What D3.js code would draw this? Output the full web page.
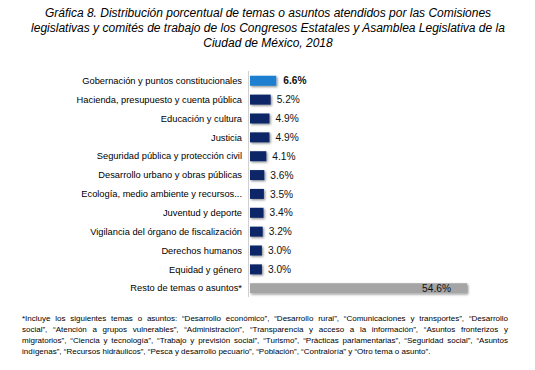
<!DOCTYPE html>
<html>
<head>
<meta charset="utf-8">
<script src="https://cdn.jsdelivr.net/npm/d3@7"></script>
<style>
  html, body { margin: 0; padding: 0; background: #fff; }
  svg { display: block; font-family: "Liberation Sans", Arial, sans-serif; }
</style>
</head>
<body>
<main></main>
<script>
var temas = [
    "Gobernación y puntos constitucionales",
    "Hacienda, presupuesto y cuenta pública",
    "Educación y cultura",
    "Justicia",
    "Seguridad pública y protección civil",
    "Desarrollo urbano y obras públicas",
    "Ecología, medio ambiente y recursos...",
    "Juventud y deporte",
    "Vigilancia del órgano de fiscalización",
    "Derechos humanos",
    "Equidad y género",
    "Resto de temas o asuntos*"
];
var porcentajes = [6.6, 5.2, 4.9, 4.9, 4.1, 3.6, 3.5, 3.4, 3.2, 3.0, 3.0, 54.6];

var titulo = [
    "Gráfica 8. Distribución porcentual de temas o asuntos atendidos por las Comisiones",
    "legislativas y comités de trabajo de los Congresos Estatales y Asamblea Legislativa de la",
    "Ciudad de México, 2018"
];

var nota = [
    "*Incluye los siguientes temas o asuntos: “Desarrollo económico”, “Desarrollo rural”, “Comunicaciones y transportes”, “Desarrollo",
    "social”, “Atención a grupos vulnerables”, “Administración”, “Transparencia y acceso a la información”, “Asuntos fronterizos y",
    "migratorios”, “Ciencia y tecnología”, “Trabajo y previsión social”, “Turismo”, “Prácticas parlamentarias”, “Seguridad social”, “Asuntos",
    "indígenas”, “Recursos hidráulicos”, “Pesca y desarrollo pecuario”, “Población”, “Contraloría” y “Otro tema o asunto”."
];

var data = temas.map(function (t, i) { return {tema: t, valor: porcentajes[i], i: i}; });

var svg = d3.select("main")
    .append("svg")
    .attr("width", 535)
    .attr("height", 370);

// titulo
svg.append("g")
    .selectAll("text")
    .data(titulo)
    .enter()
    .append("text")
    .attr("x", 268)
    .attr("y", function (d, i) { return 17 + i * 15; })
    .attr("text-anchor", "middle")
    .attr("font-size", 12)
    .attr("font-style", "italic")
    .attr("fill", "#000")
    .text(function (d) { return d; });

var x = d3.scaleLinear().domain([0, 54.6]).range([0, 217]);
var y = d3.scaleBand().domain(d3.range(temas.length)).range([72, 297]).paddingInner(0.47).paddingOuter(0.2);

var plot = svg.append("g")
    .attr("id", "plot-area")
    .attr("transform", "translate(250, 0)");

var defs = svg.append("defs");
defs.append("filter")
    .attr("id", "sombra")
    .attr("x", "-10%").attr("y", "-30%").attr("width", "130%").attr("height", "180%")
    .append("feDropShadow")
    .attr("dx", 1.2).attr("dy", 1.2).attr("stdDeviation", 0.8)
    .attr("flood-color", "#000").attr("flood-opacity", 0.45);

function color(d) {
    if (d.i === 0) return "#1a7fcf";
    if (d.i === temas.length - 1) return "#a5a5a5";
    return "#0d2868";
}

plot.selectAll("rect")
    .data(data)
    .enter()
    .append("rect")
    .attr("x", 0)
    .attr("y", function (d) { return y(d.i); })
    .attr("width", function (d) { return x(d.valor); })
    .attr("height", y.bandwidth())
    .attr("fill", color)
    .attr("filter", "url(#sombra)");

// eje vertical
plot.append("line")
    .attr("x1", -1.5).attr("x2", -1.5)
    .attr("y1", 71).attr("y2", 297)
    .attr("stroke", "#d0d0d0")
    .attr("stroke-width", 1);

// etiquetas de categoria
plot.selectAll("text.tema")
    .data(data)
    .enter()
    .append("text")
    .attr("class", "tema")
    .attr("x", -8)
    .attr("y", function (d) { return y(d.i) + y.bandwidth() / 2; })
    .attr("dy", "0.35em")
    .attr("text-anchor", "end")
    .attr("font-size", 9.3)
    .attr("fill", "#000")
    .text(function (d) { return d.tema; });

// valores
plot.selectAll("text.valor")
    .data(data)
    .enter()
    .append("text")
    .attr("class", "valor")
    .attr("x", function (d) {
        if (d.i === temas.length - 1) return x(d.valor) - 16;
        return x(d.valor) + (d.i === 0 ? 7 : 6);
    })
    .attr("y", function (d) { return y(d.i) + y.bandwidth() / 2; })
    .attr("dy", "0.36em")
    .attr("text-anchor", function (d) { return d.i === temas.length - 1 ? "end" : "start"; })
    .attr("font-size", 10.2)
    .attr("font-weight", function (d) { return d.i === 0 ? "bold" : "normal"; })
    .attr("fill", "#111")
    .text(function (d) { return d3.format(".1f")(d.valor) + "%"; });

// nota al pie, justificada
var notaG = svg.append("g");
var izq = 22, der = 508;
nota.forEach(function (linea, i) {
    var t = notaG.append("text")
        .attr("y", 321 + i * 11)
        .attr("font-size", 8)
        .attr("fill", "#000");
    var palabras = linea.split(" ");
    var spans = palabras.map(function (p) {
        return t.append("tspan").text(p);
    });
    var anchos = spans.map(function (s) { return s.node().getComputedTextLength(); });
    var total = d3.sum(anchos);
    var hueco = (i < nota.length - 1) ? (der - izq - total) / (palabras.length - 1) : 2.2;
    var pos = izq;
    spans.forEach(function (s, k) {
        s.attr("x", pos);
        pos += anchos[k] + hueco;
    });
});
</script>
</body>
</html>
